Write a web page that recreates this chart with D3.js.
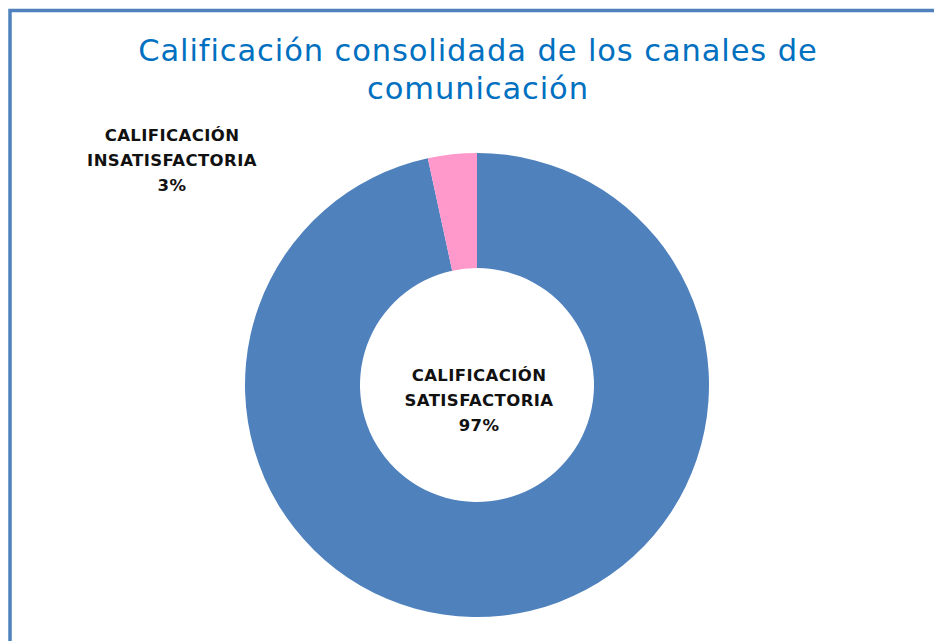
<!DOCTYPE html>
<html>
<head>
<meta charset="utf-8">
<script src="https://cdn.jsdelivr.net/npm/d3@7"></script>
<style>
  body { margin: 0; background: #fff; }
</style>
</head>
<body>
<div id="chart"></div>
<script>
const categories = ['CALIFICACIÓN SATISFACTORIA', 'CALIFICACIÓN INSATISFACTORIA'];
const values = [96.6, 3.4];
const colors = ['#4f81bd', '#ff99cc'];
const titleLines = ['Calificación consolidada de los canales de', 'comunicación'];

const W = 934, H = 641;
const svg = d3.select('#chart').append('svg').attr('width', W).attr('height', H);

// frame (only top and left edges visible in the screenshot)
svg.append('rect')
    .attr('x', 10).attr('y', 10.5)
    .attr('width', W + 20).attr('height', H + 20)
    .attr('fill', 'none').attr('stroke', '#4f81bd').attr('stroke-width', 3.5);

// title
svg.append('g').selectAll('text').data(titleLines).join('text')
    .attr('x', 478).attr('y', (d, i) => 61 + i * 38)
    .attr('text-anchor', 'middle')
    .attr('font-family', 'DejaVu Sans, sans-serif')
    .attr('font-size', '30.5px')
    .attr('letter-spacing', '0.9px')
    .attr('fill', '#0070c0')
    .text(d => d);

const cx = 477, cy = 385, outerR = 232, innerR = 117;
const pie = d3.pie().sort(null).value(d => d);
const arc = d3.arc().innerRadius(innerR).outerRadius(outerR);
const arcs = pie(values);

const g = svg.append('g').attr('transform', `translate(${cx},${cy})`);
g.selectAll('path').data(arcs).join('path')
    .attr('d', arc)
    .attr('fill', (d, i) => colors[i]);

// labels
const fmt = v => Math.round(v) + '%';
const labelPos = [[479, 374], [172, 134]];
arcs.forEach((a, i) => {
    const words = categories[i].split(' ');
    const lines = [words[0], words[1], fmt(values[i])];
    svg.append('g').selectAll('text').data(lines).join('text')
        .attr('x', labelPos[i][0])
        .attr('y', (d, j) => labelPos[i][1] + 7 + j * 25)
        .attr('text-anchor', 'middle')
        .attr('font-family', 'DejaVu Sans, sans-serif')
        .attr('font-weight', 'bold')
        .attr('font-size', '16.5px')
        .attr('letter-spacing', '0.4px')
        .attr('fill', '#111')
        .text(d => d);
});
</script>
</body>
</html>
